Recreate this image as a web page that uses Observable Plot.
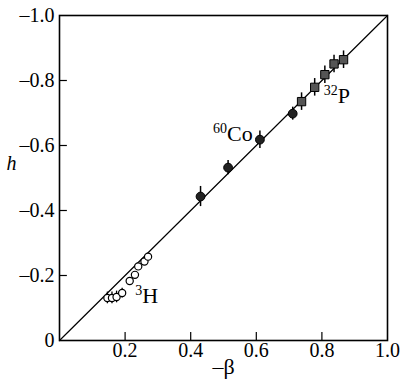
<!DOCTYPE html>
<html>
<head>
<meta charset="utf-8">
<script src="https://cdn.jsdelivr.net/npm/d3@7"></script>
<script src="https://cdn.jsdelivr.net/npm/@observablehq/plot@0.6"></script>
<style>
  html, body { margin: 0; padding: 0; background: #fff; }
  svg { display: block; }
</style>
</head>
<body>
<div id="chart"></div>
<script>
// Data: values are -beta (x) and -h (y), plotted with negative labels
const xTicks = [0.2, 0.4, 0.6, 0.8, 1.0];
const yTicks = [0, 0.2, 0.4, 0.6, 0.8, 1.0];

const h3X = [0.146, 0.160, 0.174, 0.191, 0.214, 0.230, 0.240, 0.259, 0.270];
const h3Y = [0.131, 0.131, 0.134, 0.146, 0.183, 0.202, 0.228, 0.243, 0.258];
const h3Err = [0.018, 0.018, 0.018, 0.015, 0.01, 0.01, 0.01, 0.01, 0.01];

const coX = [0.430, 0.514, 0.611, 0.711];
const coY = [0.443, 0.532, 0.618, 0.698];
const coErr = [0.031, 0.022, 0.027, 0.02];

const pX = [0.738, 0.778, 0.809, 0.837, 0.866];
const pY = [0.735, 0.779, 0.818, 0.851, 0.864];
const pErr = [0.027, 0.027, 0.027, 0.027, 0.027];

const lineX = [0, 1];
const lineY = [0, 1];

const labelBase = ["Co", "P", "H"];
const labelSup = ["60", "32", "3"];
const labelX = [0.511, 0.848, 0.252];
const labelY = [0.615, 0.732, 0.114];

const h3 = h3X.map((x, i) => ({x, y: h3Y[i], e: h3Err[i]}));
const co = coX.map((x, i) => ({x, y: coY[i], e: coErr[i]}));
const p32 = pX.map((x, i) => ({x, y: pY[i], e: pErr[i]}));
const line = lineX.map((x, i) => ({x, y: lineY[i]}));
const labels = labelBase.map((t, i) => ({t, s: labelSup[i], x: labelX[i], y: labelY[i]}));

const font = "'Liberation Serif', 'Times New Roman', serif";

const chart = Plot.plot({
  width: 406,
  height: 385,
  marginLeft: 59,
  marginRight: 19,
  marginTop: 15,
  marginBottom: 45,
  style: {fontFamily: font, background: "#fff", color: "#000"},
  x: {domain: [0, 1]},
  y: {domain: [0, 1]},
  marks: [
    Plot.axisX(xTicks, {tickSize: 0, tickPadding: 2, fontSize: 20, label: null,
      tickFormat: d => d.toFixed(1)}),
    Plot.axisY(yTicks, {tickSize: 0, tickPadding: 5, fontSize: 20, label: null,
      tickFormat: d => d === 0 ? "0" : "\u2013" + d.toFixed(1)}),
    Plot.ruleX(xTicks.slice(0, -1), {x: d => d, y1: 0, y2: 0.025, stroke: "#000", strokeWidth: 1.2}),
    Plot.ruleY(yTicks.slice(1, -1), {y: d => d, x1: 0, x2: 0.024, stroke: "#000", strokeWidth: 1.2}),
    Plot.line(line, {x: "x", y: "y", stroke: "#000", strokeWidth: 1.2}),
    Plot.ruleX(h3, {x: "x", y1: d => d.y - d.e, y2: d => d.y + d.e, stroke: "#000", strokeWidth: 1.3}),
    Plot.ruleX(co, {x: "x", y1: d => d.y - d.e, y2: d => d.y + d.e, stroke: "#000", strokeWidth: 1.5}),
    Plot.ruleX(p32, {x: "x", y1: d => d.y - d.e, y2: d => d.y + d.e, stroke: "#000", strokeWidth: 1.5}),
    Plot.dot(h3, {x: "x", y: "y", r: 3.6, fill: "#fff", stroke: "#000", strokeWidth: 1.2}),
    Plot.dot(co, {x: "x", y: "y", r: 4.4, fill: "#222", stroke: "#000", strokeWidth: 1}),
    Plot.dot(p32, {x: "x", y: "y", symbol: "square", r: 4.7, fill: "#555", stroke: "#000", strokeWidth: 1}),
    Plot.text(labels, {x: "x", y: "y", text: "t", textAnchor: "start", lineAnchor: "bottom",
      fontSize: 22, fill: "#000"}),
    Plot.text(labels, {x: "x", y: "y", text: "s", textAnchor: "end", lineAnchor: "bottom",
      fontSize: 14, dy: -8, fill: "#000"}),
    Plot.text(["\u2013\u03b2"], {frameAnchor: "bottom", dy: 33, fontSize: 22, fill: "#000"}),
    Plot.text(["h"], {frameAnchor: "left", y: [0.545], dx: -53, fontSize: 20, fontStyle: "italic", fill: "#000"}),
    Plot.frame({stroke: "#000", strokeWidth: 1.6})
  ]
});

document.getElementById("chart").appendChild(chart);
</script>
</body>
</html>
